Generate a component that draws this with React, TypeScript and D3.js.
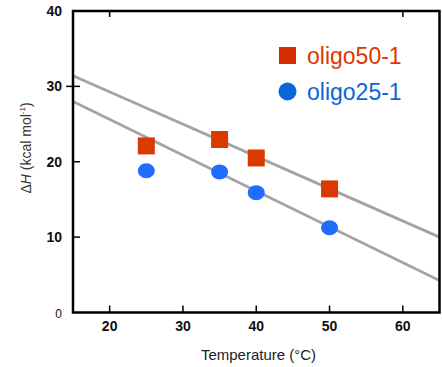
import React from "react";
import * as d3 from "d3";

const temps = [25, 35, 40, 50];
const oligo50 = [22.1, 22.95, 20.5, 16.4];
const oligo25 = [18.8, 18.65, 15.9, 11.25];
// fitted lines: [x, y] end points
const fit50 = [[15, 31.4], [65, 10.0]];
const fit25 = [[15, 28.0], [65, 4.25]];
const xTicks = [20, 30, 40, 50, 60];
const yTicks = [0, 10, 20, 30, 40];
const seriesNames = ["oligo50-1", "oligo25-1"];

const W = 442, H = 367;
const L = 73, R = 439.5, T = 11, B = 312.5;

export default function App() {
  const x = d3.scaleLinear().domain([15, 65]).range([L, R]);
  const y = d3.scaleLinear().domain([0, 40]).range([B, T]);
  const line = d3.line<number[]>().x(d => x(d[0])).y(d => y(d[1]));
  const font = "Liberation Sans, Arial, sans-serif";
  const red = "#d83a00";
  const blue = "#1f6cff";
  return (
    <svg width={W} height={H} style={{ position: "absolute", left: 0, top: 0 }} fontFamily={font}>
      <rect width={W} height={H} fill="#fff" />
      <defs>
        <clipPath id="clip"><rect x={L} y={T} width={R - L} height={B - T} /></clipPath>
      </defs>
      <g clipPath="url(#clip)">
        <path d={line(fit50 as number[][]) || ""} stroke="#a3a3a3" strokeWidth={2.8} fill="none" />
        <path d={line(fit25 as number[][]) || ""} stroke="#a3a3a3" strokeWidth={2.8} fill="none" />
      </g>
      {temps.map((t, i) => (
        <rect key={"s" + i} x={x(t) - 8.5} y={y(oligo50[i]) - 8.5} width={17} height={17} fill={red} />
      ))}
      {temps.map((t, i) => (
        <ellipse key={"c" + i} cx={x(t)} cy={y(oligo25[i])} rx={8.5} ry={7.5} fill={blue} />
      ))}
      {/* axes box */}
      <path d={`M${L},${T}H${R}V${B}H${L}Z`} fill="none" stroke="#000" strokeWidth={2.5} />
      {xTicks.map(t => (
        <g key={"xt" + t}>
          <line x1={x(t)} x2={x(t)} y1={B} y2={B - 7} stroke="#000" strokeWidth={1.5} />
          <text x={x(t)} y={331} textAnchor="middle" fontSize={14} fontWeight="bold" fill="#111">{t}</text>
        </g>
      ))}
      {[20, 60].map(t => (
        <line key={"tt" + t} x1={x(t)} x2={x(t)} y1={T} y2={T + 6} stroke="#000" strokeWidth={1.5} />
      ))}
      {yTicks.filter(t => t > 0 && t < 40).map(t => (
        <line key={"yt" + t} x1={t === 30 ? L - 7 : L} x2={L + 7} y1={y(t)} y2={y(t)} stroke="#000" strokeWidth={1.5} />
      ))}
      {yTicks.map(t => (
        <text key={"yl" + t} x={62} y={y(t) + 5} textAnchor="end" fontSize={t === 0 ? 12 : 14}
          fontWeight={t === 0 ? "normal" : "bold"} fill="#111">{t}</text>
      ))}
      <text x={258.5} y={360} textAnchor="middle" fontSize={15} fill="#222">Temperature (°C)</text>
      <text transform={`translate(31,148) rotate(-90)`} textAnchor="middle" fontSize={14} fill="#333">
        <tspan>Δ</tspan><tspan fontStyle="italic">H</tspan><tspan> (kcal mol</tspan>
        <tspan fontSize={8} dy={-6}>-1</tspan><tspan dy={6}>)</tspan>
      </text>
      {/* legend */}
      <rect x={279} y={47} width={17} height={17} fill="#d62e00" />
      <text x={307} y={63.5} fontSize={23} fill="#d93a00">{seriesNames[0]}</text>
      <circle cx={287.5} cy={91.5} r={9} fill="#0a66d6" />
      <text x={307} y={99.5} fontSize={23} fill="#0a66d6">{seriesNames[1]}</text>
    </svg>
  );
}
